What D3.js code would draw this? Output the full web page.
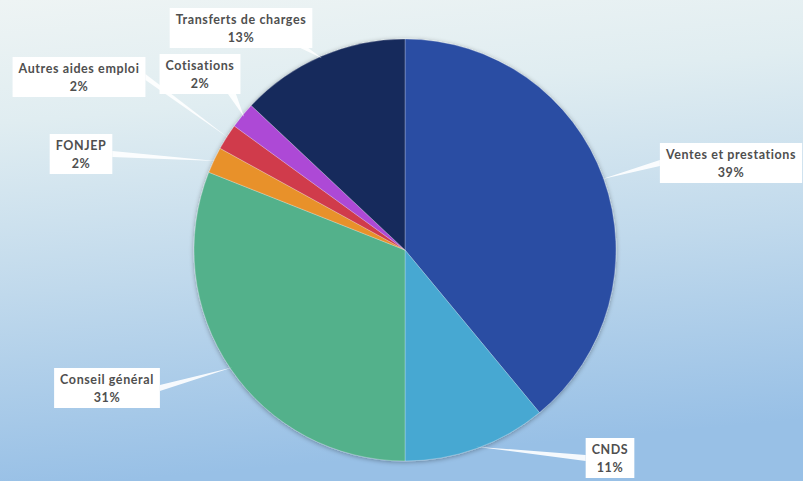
<!DOCTYPE html>
<html><head><meta charset="utf-8">
<script src="https://cdn.jsdelivr.net/npm/d3@7"></script>
<style>
html,body{margin:0;padding:0;overflow:hidden;}
svg{display:block;}
</style></head>
<body>
<svg id="c" width="803" height="481"></svg>
<script>
const categories = ["Ventes et prestations","CNDS","Conseil général","FONJEP","Autres aides emploi","Cotisations","Transferts de charges"];
const values = [39, 11, 31, 2, 2, 2, 13];
const colors = ["#2a4da3","#47a8d2","#53b18b","#e8912c","#d03a4c","#ad48d6","#172a5c"];
// label box centers (layout)
const labelCenters = [[731,163],[610,458],[107,388],[81,154],[79,77],[200,74],[241,28]];
const anchorSide = ["left","left","right","right","right","bottom","bottom"];

const W=803,H=481, cx=405, cy=250, R=211;
const svg=d3.select("#c");
const defs=svg.append("defs");
const lg=defs.append("linearGradient").attr("id","bg").attr("x1",0).attr("y1",0).attr("x2",0.15).attr("y2",1);
lg.append("stop").attr("offset","0%").attr("stop-color","#eef4f4");
lg.append("stop").attr("offset","25%").attr("stop-color","#e0edf1");
lg.append("stop").attr("offset","60%").attr("stop-color","#c0d9ec");
lg.append("stop").attr("offset","100%").attr("stop-color","#98c0e6");
svg.append("rect").attr("width",W).attr("height",H).attr("fill","url(#bg)");

const flt=defs.append("filter").attr("id","sh").attr("x","-10%").attr("y","-10%").attr("width","120%").attr("height","120%");
flt.append("feGaussianBlur").attr("in","SourceAlpha").attr("stdDeviation",2.5);
flt.append("feOffset").attr("dx",0).attr("dy",1).attr("result","b");
flt.append("feComponentTransfer").append("feFuncA").attr("type","linear").attr("slope",0.35);
const fm=flt.append("feMerge"); fm.append("feMergeNode"); fm.append("feMergeNode").attr("in","SourceGraphic");

const data=categories.map((c,i)=>({name:c,value:values[i],color:colors[i],lc:labelCenters[i],side:anchorSide[i]}));
const pie=d3.pie().sort(null).value(d=>d.value);
const arcs=pie(data);
const arc=d3.arc().innerRadius(0).outerRadius(R);
const g=svg.append("g").attr("transform",`translate(${cx},${cy})`);
g.append("g").attr("filter","url(#sh)").selectAll("path").data(arcs).join("path")
 .attr("d",arc).attr("fill",d=>d.data.color).attr("stroke","rgba(255,255,255,0.25)").attr("stroke-width",1);

const total=d3.sum(values);
const fmt=v=>Math.round(v/total*100)+"%";
const font="Lato, 'DejaVu Sans', sans-serif";

const lines=svg.append("g");
const lab=svg.append("g");
arcs.forEach(a=>{
  const d=a.data;
  const grp=lab.append("g");
  const rect=grp.append("rect").attr("fill","#fff");
  const t=grp.append("text").attr("font-family",font).attr("font-weight",700).attr("font-size",12.5)
    .attr("letter-spacing",0.6).attr("fill","#4f4f4f").attr("text-anchor","middle");
  t.append("tspan").attr("x",d.lc[0]).attr("y",d.lc[1]-4).text(d.name);
  t.append("tspan").attr("x",d.lc[0]).attr("y",d.lc[1]+14).text(fmt(d.value));
  const bw=Math.max(...t.selectAll("tspan").nodes().map(n=>n.getComputedTextLength()));
  const w=bw+12, h=40;
  const x0=d.lc[0]-w/2, y0=d.lc[1]-h/2;
  rect.attr("x",x0).attr("y",y0).attr("width",w).attr("height",h);
  const m=(a.startAngle+a.endAngle)/2;
  const px=cx+Math.sin(m)*(R-2), py=cy-Math.cos(m)*(R-2);
  let b1,b2;
  if(d.side==="left"){ b1=[x0,d.lc[1]-3]; b2=[x0,d.lc[1]+3]; }
  else if(d.side==="right"){ b1=[x0+w,d.lc[1]-3]; b2=[x0+w,d.lc[1]+3]; }
  else { const bx=Math.min(x0+w-8,Math.max(x0+8,px-12)); b1=[bx-4,y0+h]; b2=[bx+4,y0+h]; }
  lines.append("path").attr("d",`M${px},${py}L${b1[0]},${b1[1]}L${b2[0]},${b2[1]}Z`).attr("fill","#fff").attr("opacity",0.9);
});
</script>
</body></html>
